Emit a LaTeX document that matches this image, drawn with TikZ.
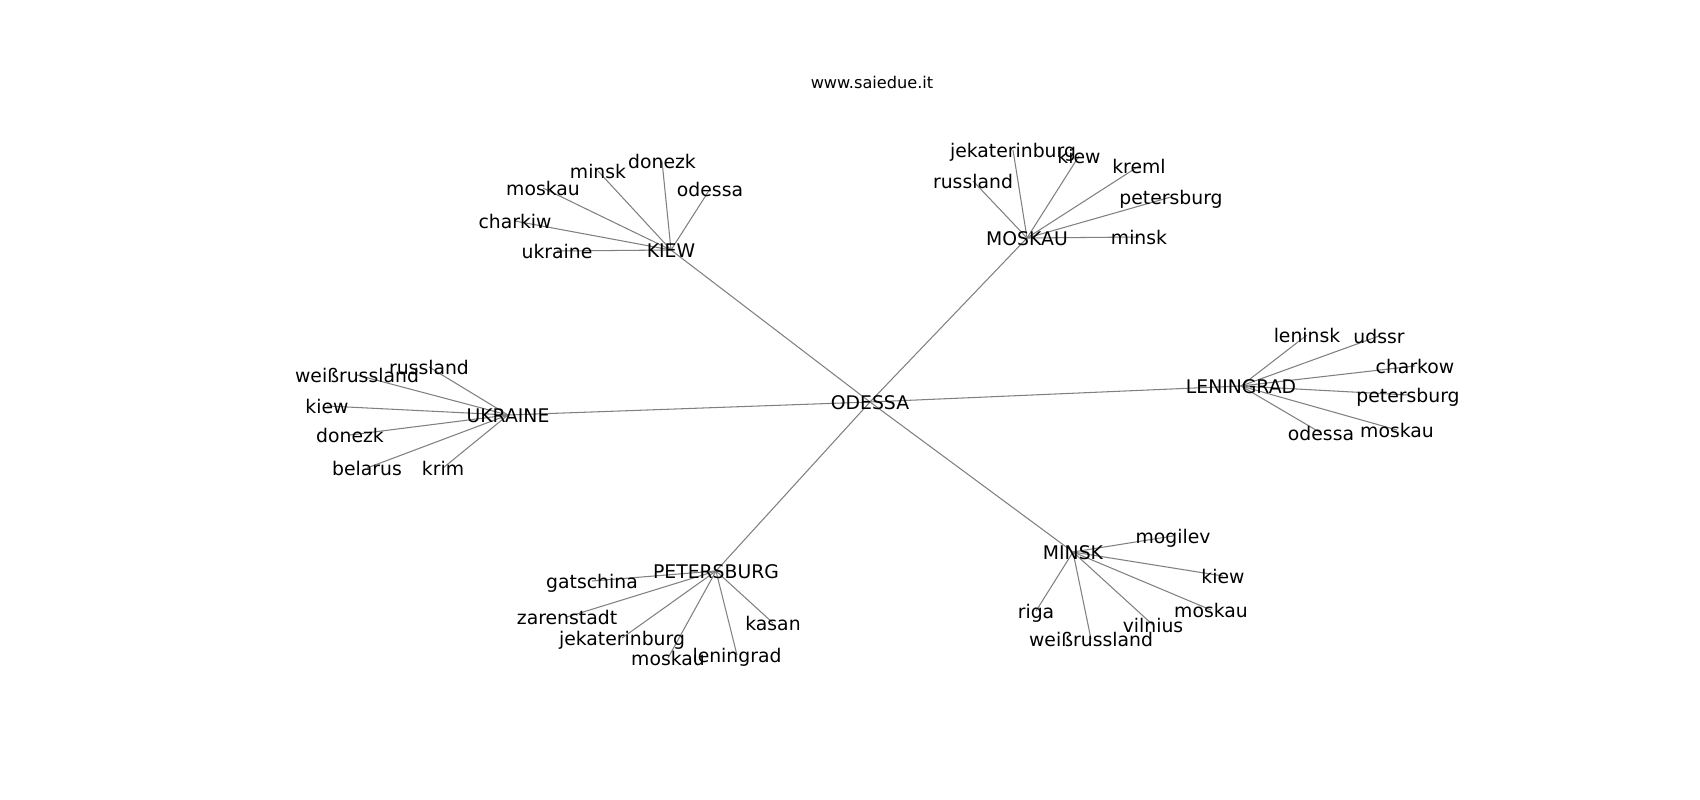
\documentclass[tikz,border=0pt]{standalone}
\usepackage{fontspec}
\setmainfont{DejaVu Sans}

\begin{document}
\begin{tikzpicture}[x=0.02cm,y=-0.02cm]
\tikzstyle{every node}+=[inner sep=0pt, text height=0.8em, text depth=0em]
\tikzstyle{lbl}=[font=\fontsize{10.7}{12}\selectfont]
\tikzstyle{edge}=[gray, line width=0.6pt]
\useasboundingbox (0,0) rectangle (1700,800);
% hubs
\coordinate (odessa) at (870,402);
\coordinate (kiew) at (671,250);
\coordinate (moskau) at (1027,238);
\coordinate (ukraine) at (508,415);
\coordinate (leningrad) at (1241,386);
\coordinate (petersburg) at (716,571);
\coordinate (minsk) at (1073,552);
% leaves of KIEW
\coordinate (k1) at (557,251);
\coordinate (k2) at (515,221);
\coordinate (k3) at (543,188);
\coordinate (k4) at (598,171);
\coordinate (k5) at (662,161);
\coordinate (k6) at (710,189);
% leaves of MOSKAU
\coordinate (m1) at (973,181);
\coordinate (m2) at (1013,150);
\coordinate (m3) at (1079,156);
\coordinate (m4) at (1139,166);
\coordinate (m5) at (1171,197);
\coordinate (m6) at (1139,237);
% leaves of UKRAINE
\coordinate (u1) at (429,367);
\coordinate (u2) at (357,375);
\coordinate (u3) at (327,406);
\coordinate (u4) at (350,435);
\coordinate (u5) at (367,468);
\coordinate (u6) at (443,468);
% leaves of LENINGRAD
\coordinate (l1) at (1307,335);
\coordinate (l2) at (1379,336);
\coordinate (l3) at (1415,366);
\coordinate (l4) at (1408,395);
\coordinate (l5) at (1321,433);
\coordinate (l6) at (1397,430);
% leaves of PETERSBURG
\coordinate (p1) at (592,581);
\coordinate (p2) at (567,617);
\coordinate (p3) at (622,638);
\coordinate (p4) at (668,658);
\coordinate (p5) at (737,655);
\coordinate (p6) at (773,623);
% leaves of MINSK
\coordinate (n1) at (1173,536);
\coordinate (n2) at (1223,576);
\coordinate (n3) at (1211,610);
\coordinate (n4) at (1153,625);
\coordinate (n5) at (1036,611);
\coordinate (n6) at (1091,639);
% edges
\foreach \h in {kiew,moskau,ukraine,leningrad,petersburg,minsk}
  \draw [edge] (odessa) -- (\h);
\foreach \i in {1,...,6} {
  \draw [edge] (kiew) -- (k\i);
  \draw [edge] (moskau) -- (m\i);
  \draw [edge] (ukraine) -- (u\i);
  \draw [edge] (leningrad) -- (l\i);
  \draw [edge] (petersburg) -- (p\i);
  \draw [edge] (minsk) -- (n\i);
}
% labels
\draw (872,81) node [font=\fontsize{9.2}{11}\selectfont] (title) {www.saiedue.it};
\draw (odessa) node [lbl] (odessaL) {ODESSA};
\draw (kiew) node [lbl] (kiewL) {KIEW};
\draw (moskau) node [lbl] (moskauL) {MOSKAU};
\draw (ukraine) node [lbl] (ukraineL) {UKRAINE};
\draw (leningrad) node [lbl] (leningradL) {LENINGRAD};
\draw (petersburg) node [lbl] (petersburgL) {PETERSBURG};
\draw (minsk) node [lbl] (minskL) {MINSK};
\draw (k1) node [lbl] (k1L) {ukraine};
\draw (k2) node [lbl] (k2L) {charkiw};
\draw (k3) node [lbl] (k3L) {moskau};
\draw (k4) node [lbl] (k4L) {minsk};
\draw (k5) node [lbl] (k5L) {donezk};
\draw (k6) node [lbl] (k6L) {odessa};
\draw (m1) node [lbl] (m1L) {russland};
\draw (m2) node [lbl] (m2L) {jekaterinburg};
\draw (m3) node [lbl] (m3L) {kiew};
\draw (m4) node [lbl] (m4L) {kreml};
\draw (m5) node [lbl] (m5L) {petersburg};
\draw (m6) node [lbl] (m6L) {minsk};
\draw (u1) node [lbl] (u1L) {russland};
\draw (u2) node [lbl] (u2L) {weißrussland};
\draw (u3) node [lbl] (u3L) {kiew};
\draw (u4) node [lbl] (u4L) {donezk};
\draw (u5) node [lbl] (u5L) {belarus};
\draw (u6) node [lbl] (u6L) {krim};
\draw (l1) node [lbl] (l1L) {leninsk};
\draw (l2) node [lbl] (l2L) {udssr};
\draw (l3) node [lbl] (l3L) {charkow};
\draw (l4) node [lbl] (l4L) {petersburg};
\draw (l5) node [lbl] (l5L) {odessa};
\draw (l6) node [lbl] (l6L) {moskau};
\draw (p1) node [lbl] (p1L) {gatschina};
\draw (p2) node [lbl] (p2L) {zarenstadt};
\draw (p3) node [lbl] (p3L) {jekaterinburg};
\draw (p4) node [lbl] (p4L) {moskau};
\draw (p5) node [lbl] (p5L) {leningrad};
\draw (p6) node [lbl] (p6L) {kasan};
\draw (n1) node [lbl] (n1L) {mogilev};
\draw (n2) node [lbl] (n2L) {kiew};
\draw (n3) node [lbl] (n3L) {moskau};
\draw (n4) node [lbl] (n4L) {vilnius};
\draw (n5) node [lbl] (n5L) {riga};
\draw (n6) node [lbl] (n6L) {weißrussland};
\end{tikzpicture}
\end{document}
